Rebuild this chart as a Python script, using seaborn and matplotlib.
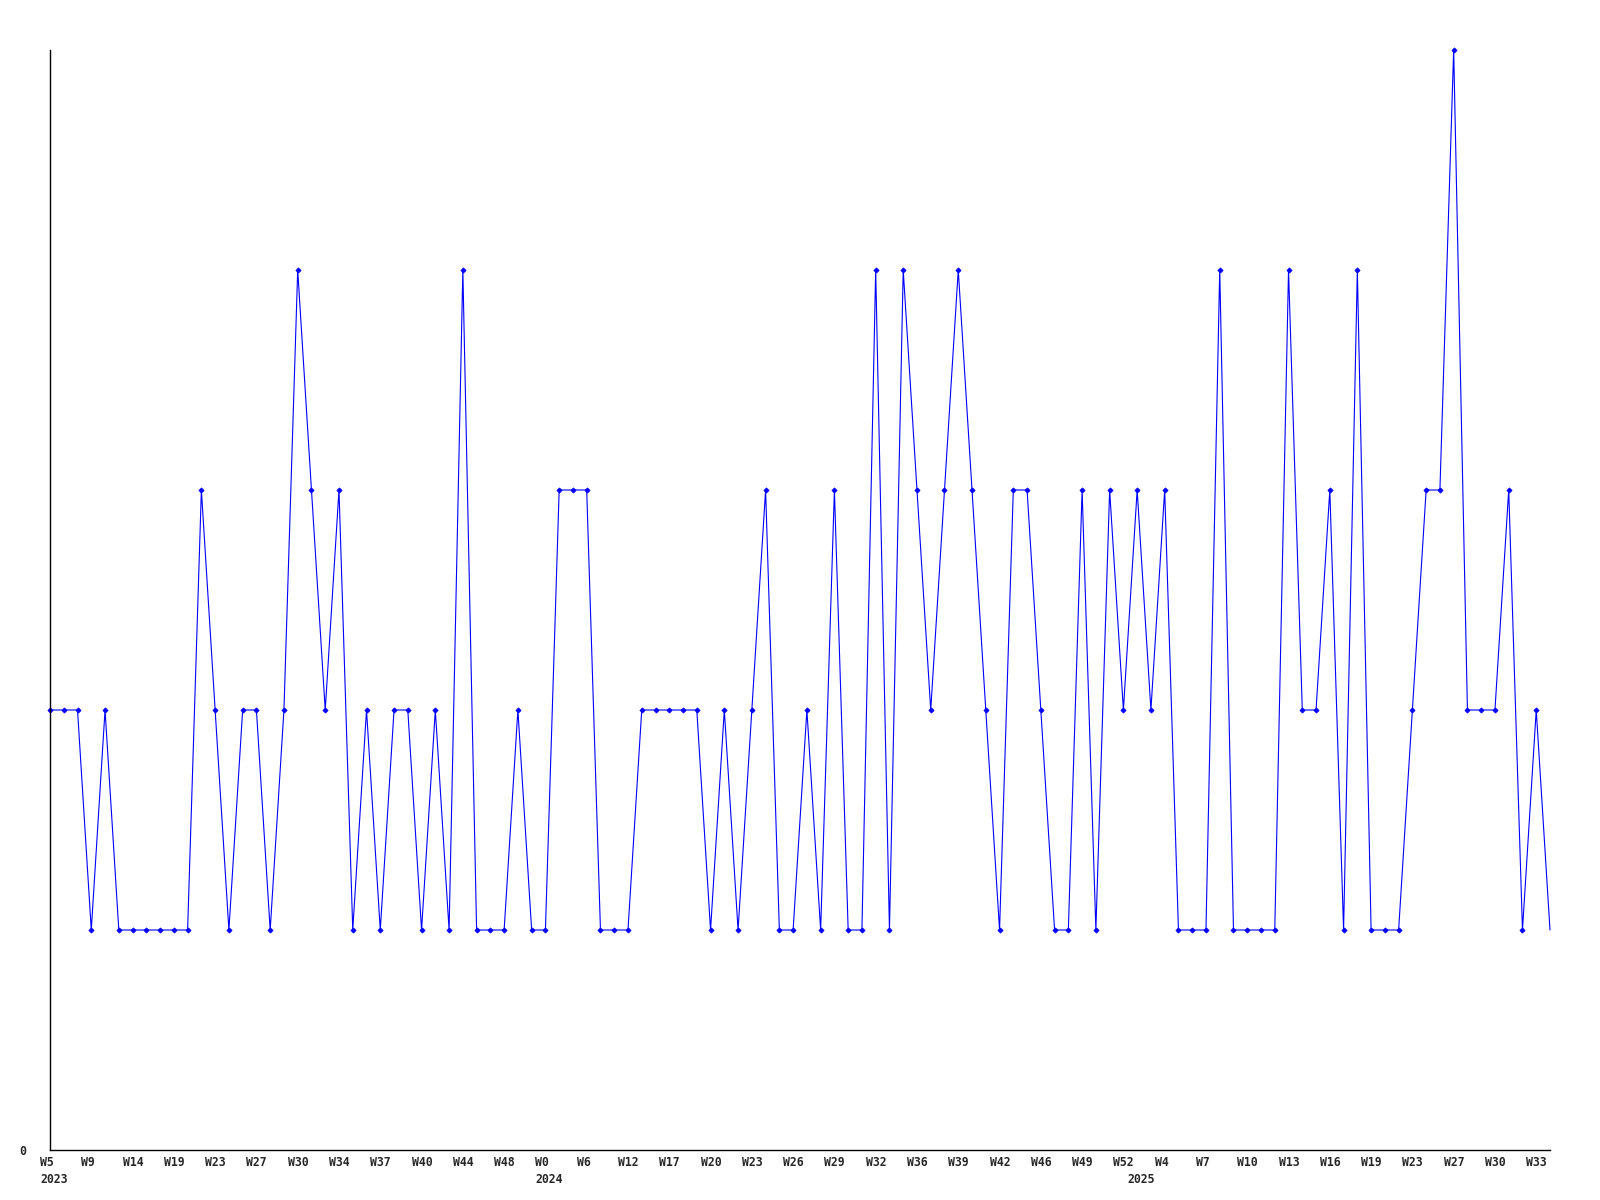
import matplotlib
matplotlib.use('Agg')
import matplotlib.pyplot as plt
import matplotlib.transforms as mtransforms
import seaborn as sns
import pandas as pd

# weekly counts, one value per data point
values = [2, 2, 2, 1, 2, 1, 1, 1, 1, 1, 1, 3, 2, 1, 2, 2, 1, 2, 4, 3,
          2, 3, 1, 2, 1, 2, 2, 1, 2, 1, 4, 1, 1, 1, 2, 1, 1, 3, 3, 3,
          1, 1, 1, 2, 2, 2, 2, 2, 1, 2, 1, 2, 3, 1, 1, 2, 1, 3, 1, 1,
          4, 1, 4, 3, 2, 3, 4, 3, 2, 1, 3, 3, 2, 1, 1, 3, 1, 3, 2, 3,
          2, 3, 1, 1, 1, 4, 1, 1, 1, 1, 4, 2, 2, 3, 1, 4, 1, 1, 1, 2,
          3, 3, 5, 2, 2, 2, 3, 1, 2, 1]

# labels shown on every third point
week_labels = ['W5', 'W9', 'W14', 'W19', 'W23', 'W27', 'W30', 'W34', 'W37', 'W40',
               'W44', 'W48', 'W0', 'W6', 'W12', 'W17', 'W20', 'W23', 'W26', 'W29',
               'W32', 'W36', 'W39', 'W42', 'W46', 'W49', 'W52', 'W4', 'W7', 'W10',
               'W13', 'W16', 'W19', 'W23', 'W27', 'W30', 'W33']
label_step = 3

years = ['2023', '2024', '2025']
year_start = [0, 36, 79]

df = pd.DataFrame({'idx': range(len(values)), 'count': values})

sns.set_style('white')
fig = plt.figure(figsize=(16, 12), dpi=100)
ax = fig.add_axes([50 / 1600, 50 / 1200, 1500 / 1600, 1100 / 1200])

sns.lineplot(data=df, x='idx', y='count', ax=ax, color='#0000ff', linewidth=0.8,
             marker='D', markersize=2.6, markeredgewidth=0.6, markeredgecolor='#0000ff',
             markevery=list(range(len(values) - 1)), clip_on=False,
             estimator=None, legend=False)

ax.set_xlim(0, len(values) - 1)
ax.set_ylim(0, max(values))
ax.set_xlabel('')
ax.set_ylabel('')

for side in ['top', 'right']:
    ax.spines[side].set_visible(False)
for side in ['left', 'bottom']:
    ax.spines[side].set_color('black')
    ax.spines[side].set_linewidth(1.0)

font = dict(family='DejaVu Sans Mono', weight='bold', size=8.3)

ax.set_yticks([0])
ax.set_yticklabels(['0'], **font)
ax.tick_params(axis='y', length=0, pad=17)

ax.set_xticks(list(range(0, len(values), label_step))[:len(week_labels)])
ax.set_xticklabels(week_labels, ha='left', **font)
ax.tick_params(axis='x', length=0, pad=4.5)
offset = mtransforms.ScaledTranslation(-10 / 100, 0, fig.dpi_scale_trans)
for lab in ax.get_xticklabels():
    lab.set_transform(lab.get_transform() + offset)

for yr, pos in zip(years, year_start):
    ax.annotate(yr, xy=(pos, 0), xycoords=('data', 'axes fraction'),
                xytext=(-10, -23), textcoords='offset pixels',
                ha='left', va='top', **font)

fig.savefig('out.png', dpi=100)
